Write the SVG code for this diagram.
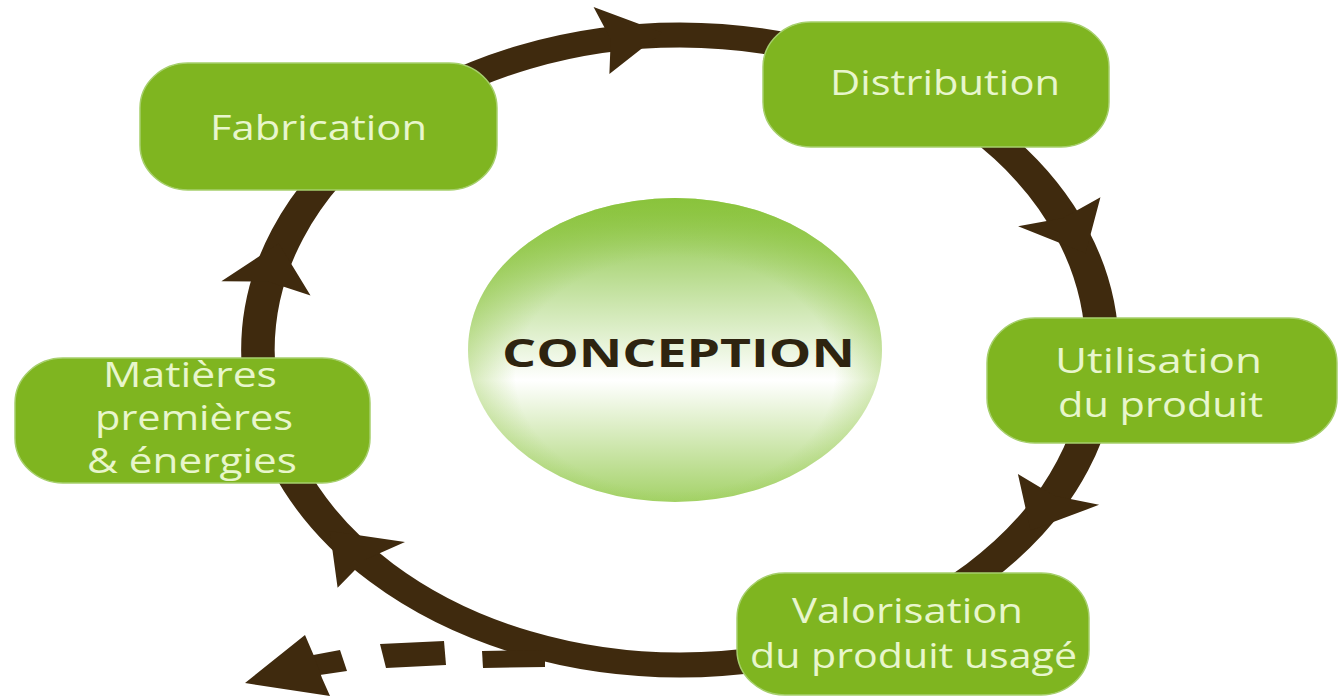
<svg xmlns="http://www.w3.org/2000/svg" width="1339" height="696" viewBox="0 0 1339 696">
  <defs>
    <linearGradient id="cg" x1="0" y1="0" x2="0" y2="1">
      <stop offset="0" stop-color="#86c23a"/>
      <stop offset="0.3" stop-color="#c2e19e"/>
      <stop offset="0.6" stop-color="#ffffff"/>
      <stop offset="1" stop-color="#a4d268"/>
    </linearGradient>
    <radialGradient id="cr" cx="0.5" cy="0.58" r="0.55">
      <stop offset="0.7" stop-color="#8cc43c" stop-opacity="0"/>
      <stop offset="1" stop-color="#8cc43c" stop-opacity="0.55"/>
    </radialGradient>
    <polygon id="ah" points="42,0 -4,-34 3,0 -4,34"/>
  </defs>
  <style>
    .box { fill: #7fb520; stroke: #a6cf6c; stroke-width: 1.5; }
    .lbl { font-family: "Open Sans", "Liberation Sans", sans-serif; font-size: 34px; fill: #e8f6cc; text-anchor: start; }
    .ring { fill: none; stroke: #3f2a0e; stroke-width: 25; }
    .brown { fill: #3f2a0e; }
    .ctr { font-family: "Open Sans", "Liberation Sans", sans-serif; font-weight: bold; font-size: 40px; fill: #2e2410; }
  </style>
  <rect width="1339" height="696" fill="#ffffff"/>
  <g id="connectors">
    <g transform="scale(1.34,1)">
      <circle class="ring" cx="507.46" cy="350" r="315"/>
      <use href="#ah" class="brown" transform="translate(452.8,39.8) rotate(-10)"/>
      <use href="#ah" class="brown" transform="translate(792.2,215.4) rotate(64.7)"/>
      <use href="#ah" class="brown" transform="translate(788.1,493) rotate(117)"/>
      <use href="#ah" class="brown" transform="translate(274.4,562) rotate(227.7)"/>
      <use href="#ah" class="brown" transform="translate(199.3,284.5) rotate(282)"/>
    </g>
    <g id="dashed-arrow" class="brown">
      <polygon points="482,651 545,650 545,667 483,668"/>
      <polygon points="380,644 444,641 446,665 386,668"/>
      <polygon points="308,656 340,650 347,671 313,676"/>
      <polygon points="245,683 305,635 314,656 322,678 330,696"/>
    </g>
  </g>
  <g id="node-conception">
    <ellipse cx="675" cy="350" rx="207" ry="152" fill="url(#cg)"/>
    <ellipse cx="675" cy="350" rx="207" ry="152" fill="url(#cr)"/>
    <text class="ctr" x="502" y="367" textLength="353" lengthAdjust="spacingAndGlyphs">CONCEPTION</text>
  </g>
  <g id="node-fabrication">
    <rect class="box" x="140" y="63" width="357" height="127" rx="48" ry="45"/>
    <text class="lbl" x="210" y="140" textLength="217" lengthAdjust="spacingAndGlyphs">Fabrication</text>
  </g>
  <g id="node-distribution">
    <rect class="box" x="763" y="22" width="346" height="125" rx="48" ry="45"/>
    <text class="lbl" x="830" y="95" textLength="230" lengthAdjust="spacingAndGlyphs">Distribution</text>
  </g>
  <g id="node-utilisation">
    <rect class="box" x="987" y="318" width="350" height="125" rx="48" ry="45"/>
    <text class="lbl" x="1055" y="373" textLength="207" lengthAdjust="spacingAndGlyphs">Utilisation</text>
    <text class="lbl" x="1058" y="417" textLength="205" lengthAdjust="spacingAndGlyphs">du produit</text>
  </g>
  <g id="node-valorisation">
    <rect class="box" x="737" y="573" width="352" height="122" rx="48" ry="45"/>
    <text class="lbl" x="792" y="623" textLength="231" lengthAdjust="spacingAndGlyphs">Valorisation</text>
    <text class="lbl" x="750" y="668" textLength="327" lengthAdjust="spacingAndGlyphs">du produit usagé</text>
  </g>
  <g id="node-matieres">
    <rect class="box" x="15" y="358" width="355" height="125" rx="48" ry="45"/>
    <text class="lbl" x="103" y="387" textLength="174" lengthAdjust="spacingAndGlyphs">Matières</text>
    <text class="lbl" x="95" y="430" textLength="198" lengthAdjust="spacingAndGlyphs">premières</text>
    <text class="lbl" x="87" y="473" textLength="210" lengthAdjust="spacingAndGlyphs">&amp; énergies</text>
  </g>
</svg>
